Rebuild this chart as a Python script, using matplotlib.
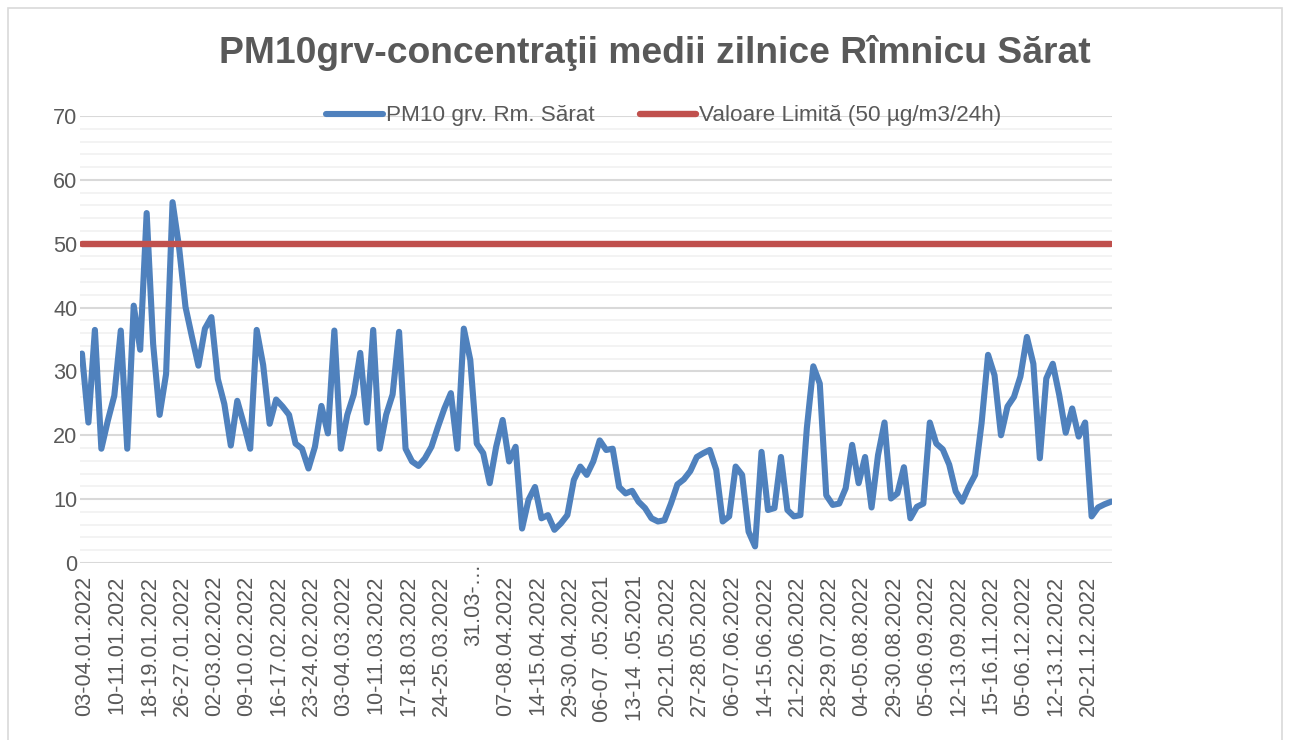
"""PM10 daily mean concentrations, Rîmnicu Sărat."""
import matplotlib

matplotlib.use("Agg")
import matplotlib.pyplot as plt
from matplotlib.patches import Rectangle
from matplotlib.ticker import MultipleLocator
from matplotlib.transforms import ScaledTranslation

# daily means, one value per sampling day
pm10 = [
    32.8, 22.0, 36.5, 17.9, 22.3, 26.2, 36.4, 17.9, 40.3, 33.4,
    54.8, 34.3, 23.2, 29.6, 56.5, 49.5, 40.1, 35.4, 30.9, 36.7,
    38.5, 28.8, 24.9, 18.4, 25.4, 21.8, 17.9, 36.5, 31.0, 21.8,
    25.6, 24.5, 23.2, 18.7, 17.9, 14.8, 18.2, 24.6, 20.3, 36.4,
    17.9, 23.2, 26.4, 32.9, 22.0, 36.5, 17.9, 23.2, 26.4, 36.2,
    17.9, 15.9, 15.2, 16.4, 18.2, 21.3, 24.2, 26.6, 17.9, 36.7,
    31.8, 18.7, 17.2, 12.5, 18.2, 22.4, 15.9, 18.2, 5.4, 9.9,
    11.9, 7.0, 7.5, 5.2, 6.2, 7.5, 13.0, 15.1, 13.8, 15.9,
    19.2, 17.7, 17.9, 11.9, 10.9, 11.3, 9.6, 8.6, 7.0, 6.5,
    6.7, 9.3, 12.3, 13.1, 14.4, 16.6, 17.2, 17.7, 14.6, 6.5,
    7.3, 15.1, 13.8, 4.9, 2.6, 17.4, 8.3, 8.6, 16.6, 8.3,
    7.3, 7.5, 21.1, 30.8, 28.1, 10.6, 9.1, 9.3, 11.7, 18.5,
    12.5, 16.6, 8.7, 16.9, 22.0, 10.1, 10.9, 15.0, 7.0, 8.8,
    9.3, 22.0, 18.7, 17.8, 15.4, 11.2, 9.6, 11.9, 13.8, 21.9,
    32.6, 29.4, 20.0, 24.5, 26.0, 29.2, 35.4, 31.2, 16.4, 28.9,
    31.2, 26.3, 20.4, 24.2, 19.8, 22.0, 7.3, 8.7, 9.2, 9.6,
]
limit_value = 50

# category labels shown on the axis (every 5th sampling day)
tick_labels = [
    "03-04.01.2022", "10-11.01.2022", "18-19.01.2022", "26-27.01.2022",
    "02-03.02.2022", "09-10.02.2022", "16-17.02.2022", "23-24.02.2022",
    "03-04.03.2022", "10-11.03.2022", "17-18.03.2022", "24-25.03.2022",
    "31.03-…", "07-08.04.2022", "14-15.04.2022", "29-30.04.2022",
    "06-07 .05.2021", "13-14 .05.2021", "20-21.05.2022", "27-28.05.2022",
    "06-07.06.2022", "14-15.06.2022", "21-22.06.2022", "28-29.07.2022",
    "04-05.08.2022", "29-30.08.2022", "05-06.09.2022", "12-13.09.2022",
    "15-16.11.2022", "05-06.12.2022", "12-13.12.2022", "20-21.12.2022",
]
label_step = 5

title = "PM10grv-concentraţii medii zilnice Rîmnicu Sărat"
series_name = "PM10 grv. Rm. Sărat"
limit_name = "Valoare Limită (50 µg/m3/24h)"

plt.rcParams["font.family"] = ["Liberation Sans", "DejaVu Sans"]
text_color = "#595959"

fig = plt.figure(figsize=(12.89, 7.40), dpi=100)
fig.patches.append(Rectangle((8 / 1289, -0.05), 1274 / 1289, 1.05 - 8 / 740,
                             transform=fig.transFigure, fill=False,
                             edgecolor="#d9d9d9", linewidth=1.2))

ax = fig.add_axes([80 / 1289, 1 - 563 / 740, 1032 / 1289, 447 / 740])

x = list(range(len(pm10)))
ax.plot(x, pm10, color="#4f81bd", linewidth=4.4, solid_joinstyle="round",
        solid_capstyle="round", label=series_name, zorder=3)
ax.plot(x, [limit_value] * len(x), color="#c0504d", linewidth=4.6,
        solid_capstyle="round", label=limit_name, zorder=3)

ax.set_ylim(0, 70)
ax.set_xlim(-0.3, len(pm10) - 0.85)
ax.yaxis.set_major_locator(MultipleLocator(10))
ax.yaxis.set_minor_locator(MultipleLocator(2))
ax.grid(which="minor", axis="y", color="#f2f2f2", linewidth=1.3, zorder=0)
ax.grid(which="major", axis="y", color="#d9d9d9", linewidth=1.5, zorder=1)
ax.set_axisbelow(True)
for spine in ax.spines.values():
    spine.set_visible(False)

positions = list(range(0, len(pm10), label_step))
shown = [lab if not lab.endswith("…") else "" for lab in tick_labels]
ax.set_xticks(positions, shown, rotation=90, fontsize=15.6, color=text_color)
ax.tick_params(axis="both", which="both", length=0)
ax.tick_params(axis="x", pad=9)
ax.tick_params(axis="y", labelsize=15.6, labelcolor=text_color, pad=2)

nudge = ScaledTranslation(3 / 100, 0, fig.dpi_scale_trans)
for lab in ax.get_xticklabels():
    lab.set_transform(lab.get_transform() + nudge)

# the truncated label sits higher than the others
odd = tick_labels.index("31.03-…")
ax.text(positions[odd], 0.0, tick_labels[odd], rotation=90, ha="center",
        va="top", fontsize=15.6, color=text_color, clip_on=False,
        transform=ax.get_xaxis_transform() + nudge)

fig.text(0.508, 1 - 53 / 740, title, ha="center", va="center",
         fontsize=26.8, fontweight="bold", color=text_color)

fig.legend(loc="center", bbox_to_anchor=(664 / 1289, 1 - 116 / 740), ncol=2,
           frameon=False, fontsize=16.2, handlelength=2.5, handletextpad=0.15,
           columnspacing=2.0, labelcolor=text_color)

fig.savefig("out.png", dpi=100)
